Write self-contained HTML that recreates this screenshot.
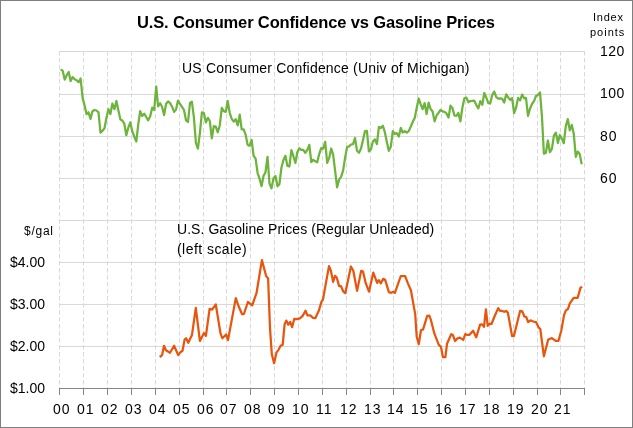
<!DOCTYPE html>
<html><head><meta charset="utf-8"><style>
html,body{margin:0;padding:0;background:#fff;}
body{width:633px;height:428px;overflow:hidden;}
svg{display:block;will-change:transform;font-family:"Liberation Sans",sans-serif;}
</style></head><body>
<svg width="633" height="428" viewBox="0 0 633 428">
<rect x="0.5" y="0.5" width="632" height="427" fill="#fff" stroke="#7f7f7f" stroke-width="1"/>
<g stroke="#d9d9d9" stroke-width="1" stroke-dasharray="4.5 2.5"><line x1="59.50" y1="51" x2="59.50" y2="388"/><line x1="83.50" y1="51" x2="83.50" y2="388"/><line x1="107.50" y1="51" x2="107.50" y2="388"/><line x1="131.50" y1="51" x2="131.50" y2="388"/><line x1="155.50" y1="51" x2="155.50" y2="388"/><line x1="179.50" y1="51" x2="179.50" y2="388"/><line x1="203.50" y1="51" x2="203.50" y2="388"/><line x1="226.50" y1="51" x2="226.50" y2="388"/><line x1="250.50" y1="51" x2="250.50" y2="388"/><line x1="274.50" y1="51" x2="274.50" y2="388"/><line x1="298.50" y1="51" x2="298.50" y2="388"/><line x1="322.50" y1="51" x2="322.50" y2="388"/><line x1="346.50" y1="51" x2="346.50" y2="388"/><line x1="370.50" y1="51" x2="370.50" y2="388"/><line x1="393.50" y1="51" x2="393.50" y2="388"/><line x1="417.50" y1="51" x2="417.50" y2="388"/><line x1="441.50" y1="51" x2="441.50" y2="388"/><line x1="465.50" y1="51" x2="465.50" y2="388"/><line x1="489.50" y1="51" x2="489.50" y2="388"/><line x1="513.50" y1="51" x2="513.50" y2="388"/><line x1="537.50" y1="51" x2="537.50" y2="388"/><line x1="560.50" y1="51" x2="560.50" y2="388"/><line x1="584.50" y1="51" x2="584.50" y2="388"/></g>
<g stroke="#d9d9d9" stroke-width="1"><line x1="59" y1="51.50" x2="585" y2="51.50"/><line x1="59" y1="94.50" x2="585" y2="94.50"/><line x1="59" y1="136.50" x2="585" y2="136.50"/><line x1="59" y1="178.50" x2="585" y2="178.50"/><line x1="59" y1="220.50" x2="585" y2="220.50"/><line x1="59" y1="262.50" x2="585" y2="262.50"/><line x1="59" y1="304.50" x2="585" y2="304.50"/><line x1="59" y1="346.50" x2="585" y2="346.50"/></g>
<g stroke="#868686" stroke-width="1">
<line x1="59" y1="388.5" x2="585" y2="388.5"/>
<line x1="59.50" y1="388" x2="59.50" y2="395"/><line x1="83.50" y1="388" x2="83.50" y2="395"/><line x1="107.50" y1="388" x2="107.50" y2="395"/><line x1="131.50" y1="388" x2="131.50" y2="395"/><line x1="155.50" y1="388" x2="155.50" y2="395"/><line x1="179.50" y1="388" x2="179.50" y2="395"/><line x1="203.50" y1="388" x2="203.50" y2="395"/><line x1="226.50" y1="388" x2="226.50" y2="395"/><line x1="250.50" y1="388" x2="250.50" y2="395"/><line x1="274.50" y1="388" x2="274.50" y2="395"/><line x1="298.50" y1="388" x2="298.50" y2="395"/><line x1="322.50" y1="388" x2="322.50" y2="395"/><line x1="346.50" y1="388" x2="346.50" y2="395"/><line x1="370.50" y1="388" x2="370.50" y2="395"/><line x1="393.50" y1="388" x2="393.50" y2="395"/><line x1="417.50" y1="388" x2="417.50" y2="395"/><line x1="441.50" y1="388" x2="441.50" y2="395"/><line x1="465.50" y1="388" x2="465.50" y2="395"/><line x1="489.50" y1="388" x2="489.50" y2="395"/><line x1="513.50" y1="388" x2="513.50" y2="395"/><line x1="537.50" y1="388" x2="537.50" y2="395"/><line x1="560.50" y1="388" x2="560.50" y2="395"/><line x1="584.50" y1="388" x2="584.50" y2="395"/></g>
<g font-size="14" fill="#000"><text x="53.0" y="414" letter-spacing="1">00</text><text x="77.0" y="414" letter-spacing="1">01</text><text x="101.0" y="414" letter-spacing="1">02</text><text x="125.0" y="414" letter-spacing="1">03</text><text x="149.0" y="414" letter-spacing="1">04</text><text x="173.0" y="414" letter-spacing="1">05</text><text x="197.0" y="414" letter-spacing="1">06</text><text x="220.0" y="414" letter-spacing="1">07</text><text x="244.0" y="414" letter-spacing="1">08</text><text x="268.0" y="414" letter-spacing="1">09</text><text x="292.0" y="414" letter-spacing="1">10</text><text x="316.0" y="414" letter-spacing="1">11</text><text x="340.0" y="414" letter-spacing="1">12</text><text x="364.0" y="414" letter-spacing="1">13</text><text x="387.0" y="414" letter-spacing="1">14</text><text x="411.0" y="414" letter-spacing="1">15</text><text x="435.0" y="414" letter-spacing="1">16</text><text x="459.0" y="414" letter-spacing="1">17</text><text x="483.0" y="414" letter-spacing="1">18</text><text x="507.0" y="414" letter-spacing="1">19</text><text x="531.0" y="414" letter-spacing="1">20</text><text x="554.0" y="414" letter-spacing="1">21</text></g>
<g fill="#000"><text x="137" y="28" font-size="16.5" font-weight="bold" letter-spacing="-0.143">U.S. Consumer Confidence vs Gasoline Prices</text>
<text x="182" y="73" font-size="14" letter-spacing="0.2">US Consumer Confidence (Univ of Michigan)</text>
<text x="177" y="234" font-size="14" letter-spacing="0.053">U.S. Gasoline Prices (Regular Unleaded)</text>
<text x="177" y="254" font-size="14" letter-spacing="0.455">(left scale)</text>
<text x="593" y="21" font-size="11" letter-spacing="0.75">Index</text>
<text x="590" y="36" font-size="11" letter-spacing="1.0">points</text>
<text x="600" y="56" font-size="14" letter-spacing="0.5">120</text>
<text x="600" y="98" font-size="14" letter-spacing="0.5">100</text>
<text x="600" y="141" font-size="14" letter-spacing="1.0">80</text>
<text x="600" y="183" font-size="14" letter-spacing="1.0">60</text>
<text x="24" y="235" font-size="12" letter-spacing="0.75">$/gal</text>
<text x="10" y="267" font-size="14" letter-spacing="0.0">$4.00</text>
<text x="10" y="309" font-size="14" letter-spacing="0.0">$3.00</text>
<text x="10" y="351" font-size="14" letter-spacing="0.0">$2.00</text>
<text x="10" y="393" font-size="14" letter-spacing="0.0">$1.00</text></g>
<polyline fill="none" stroke="#6cb43c" stroke-width="2.25" stroke-linejoin="round" stroke-linecap="butt" points="60.7,69.3 62.7,70.8 64.7,79.6 66.7,75.2 68.7,72.0 70.6,81.1 72.6,77.1 74.6,79.2 76.6,80.2 78.6,82.3 80.6,78.5 82.6,97.9 84.6,105.6 86.6,114.2 88.5,112.3 90.5,118.9 92.5,111.3 94.5,110.0 96.5,110.5 98.5,112.3 100.5,132.7 102.5,130.8 104.5,128.3 106.4,118.0 108.4,109.2 110.4,114.0 112.4,103.5 114.4,109.2 116.4,101.0 118.4,110.5 120.4,119.5 122.3,120.5 124.3,123.7 126.3,135.2 128.3,127.7 130.3,122.4 132.3,131.5 134.3,136.7 136.3,141.5 138.3,123.9 140.2,111.1 142.2,116.1 144.2,113.6 146.2,117.0 148.2,120.3 150.2,116.3 152.2,107.7 154.2,110.0 156.2,86.5 158.1,106.3 160.1,103.3 162.1,106.7 164.1,115.1 166.1,103.7 168.1,101.4 170.1,103.1 172.1,106.7 174.1,111.9 176.0,109.6 178.0,100.6 180.0,104.0 182.0,106.9 184.0,110.0 186.0,120.3 188.0,122.0 190.0,102.9 191.9,101.8 193.9,117.4 195.9,143.0 197.9,148.7 199.9,133.1 201.9,112.3 203.9,113.0 205.9,122.4 207.9,117.8 209.8,121.0 211.8,138.4 213.8,126.2 215.8,126.6 217.8,132.3 219.8,125.2 221.8,107.9 223.8,111.1 225.8,111.9 227.7,101.0 229.7,112.8 231.7,118.9 233.7,121.6 235.7,119.1 237.7,125.4 239.7,114.7 241.7,129.4 243.7,129.4 245.6,134.6 247.6,144.7 249.6,145.9 251.6,139.9 253.6,155.8 255.6,158.6 257.6,173.0 259.6,178.9 261.6,186.1 263.5,176.0 265.5,172.2 267.5,156.9 269.5,183.5 271.5,188.4 273.5,178.3 275.5,176.0 277.5,186.3 279.4,184.2 281.4,167.8 283.4,160.2 285.4,155.8 287.4,165.9 289.4,166.5 291.4,150.2 293.4,156.2 295.4,163.0 297.3,152.2 299.3,148.3 301.3,149.9 303.3,149.9 305.3,152.9 307.3,149.9 309.3,144.9 311.3,162.1 313.3,159.8 315.2,161.3 317.2,162.3 319.2,154.1 321.2,148.1 323.2,148.7 325.2,141.8 327.2,162.8 329.2,157.9 331.2,148.5 333.1,154.3 335.1,170.7 337.1,187.3 339.1,179.6 341.1,176.8 343.1,170.7 345.1,157.7 347.1,147.0 349.1,146.4 351.0,144.5 353.0,144.1 355.0,138.0 357.0,150.8 359.0,152.7 361.0,148.5 363.0,140.1 365.0,131.0 366.9,130.8 368.9,151.4 370.9,149.5 372.9,141.5 374.9,139.4 376.9,144.1 378.9,127.0 380.9,127.9 382.9,125.8 384.8,132.1 386.8,141.8 388.8,150.8 390.8,146.8 392.8,131.2 394.8,134.0 396.8,133.1 398.8,136.5 400.8,127.9 402.7,132.5 404.7,131.2 406.7,132.7 408.7,131.2 410.7,126.8 412.7,122.0 414.7,118.0 416.7,107.9 418.7,98.5 420.6,104.2 422.6,109.2 424.6,103.1 426.6,114.0 428.6,102.7 430.6,109.0 432.6,111.5 434.6,121.4 436.6,115.5 438.5,112.8 440.5,110.0 442.5,111.3 444.5,111.9 446.5,113.4 448.5,117.6 450.5,105.6 452.5,108.1 454.4,115.5 456.4,115.9 458.4,113.0 460.4,121.4 462.4,107.5 464.4,98.3 466.4,97.6 468.4,102.3 470.4,101.0 472.3,100.8 474.3,100.6 476.3,105.0 478.3,108.4 480.3,101.2 482.3,104.8 484.3,93.0 486.3,97.6 488.3,103.1 490.2,103.5 492.2,95.1 494.2,91.6 496.2,97.0 498.2,98.7 500.2,98.3 502.2,98.9 504.2,102.5 506.2,94.3 508.1,97.4 510.1,99.8 512.1,98.1 514.1,113.0 516.1,107.5 518.1,97.9 520.1,100.4 522.1,94.5 524.1,98.3 526.0,97.9 528.0,115.9 530.0,108.8 532.0,104.0 534.0,101.2 536.0,96.0 538.0,94.9 540.0,92.4 542.0,117.4 543.9,153.7 545.9,152.7 547.9,140.5 549.9,152.2 551.9,148.9 553.9,135.7 555.9,132.7 557.9,143.0 559.8,135.0 561.8,138.6 563.8,143.2 565.8,126.2 567.8,119.1 569.8,130.4 571.8,124.9 573.8,134.0 575.8,156.9 577.7,151.6 579.7,153.9 581.7,164.2"/>
<polyline fill="none" stroke="#e8560e" stroke-width="2.25" stroke-linejoin="round" stroke-linecap="butt" points="159.7,357.0 162.1,355.1 164.0,345.8 165.9,350.3 170.0,352.7 174.1,345.8 178.2,355.1 180.3,352.3 182.5,350.8 184.6,339.6 186.1,338.2 188.3,342.8 190.6,337.7 192.0,334.9 195.8,307.8 199.9,340.9 204.0,333.1 205.9,335.8 209.6,308.8 212.1,309.6 215.8,304.5 220.5,333.4 222.4,338.3 226.1,334.4 228.0,340.1 235.8,298.1 238.8,306.8 242.0,314.0 243.9,314.0 247.9,302.0 252.2,305.3 256.5,293.2 261.9,260.1 266.2,276.3 268.1,278.2 270.0,328.1 271.8,354.3 274.1,363.2 276.5,352.4 278.4,350.1 280.8,345.5 282.7,344.9 284.6,324.3 286.4,320.6 288.3,324.7 290.2,322.0 292.1,327.1 294.3,318.8 296.5,319.1 299.9,318.3 302.7,315.9 305.5,310.7 307.4,315.3 310.2,315.3 313.0,317.8 315.3,318.2 319.0,310.3 321.4,301.9 322.9,299.7 329.0,266.1 330.9,270.7 333.1,281.9 335.0,275.8 336.8,277.8 339.1,286.1 341.0,286.1 343.4,291.7 345.3,293.2 350.9,266.5 353.3,270.7 357.1,290.9 361.2,270.8 363.0,271.6 365.8,283.4 369.0,291.7 373.3,272.6 377.1,282.9 378.9,280.1 380.8,283.4 383.2,278.8 385.1,279.7 388.9,292.2 391.1,292.8 393.4,291.9 394.9,292.8 400.8,276.0 405.1,276.0 407.9,283.4 410.9,290.3 415.2,314.1 416.7,336.8 418.8,344.2 421.0,330.0 423.0,329.7 427.2,315.9 429.3,315.7 430.8,319.6 434.4,333.7 438.7,344.6 441.0,347.0 442.9,357.1 445.4,357.1 447.0,343.8 451.2,334.2 452.8,334.8 455.1,341.0 457.5,338.3 459.8,337.6 463.2,339.9 465.3,334.2 467.3,334.8 469.5,334.8 473.1,330.7 476.2,337.3 480.1,324.6 482.1,324.4 484.0,326.8 485.9,309.4 487.7,325.8 489.6,323.7 491.5,324.0 494.5,316.5 498.2,308.1 500.1,310.9 502.3,310.9 504.2,311.8 506.1,310.9 507.9,312.7 512.1,336.1 513.9,336.1 520.1,310.9 522.3,311.4 524.4,316.5 526.3,317.1 528.1,322.1 530.4,320.3 533.2,321.5 536.0,322.1 538.8,327.7 540.3,329.0 543.9,356.3 548.2,339.5 551.9,338.1 555.7,340.8 558.5,340.8 561.3,330.5 564.1,314.9 565.9,310.4 568.0,309.0 569.7,303.6 573.6,297.9 575.0,297.8 577.6,297.8 579.3,292.2 580.4,287.9 582.1,286.8"/>
</svg>
</body></html>
